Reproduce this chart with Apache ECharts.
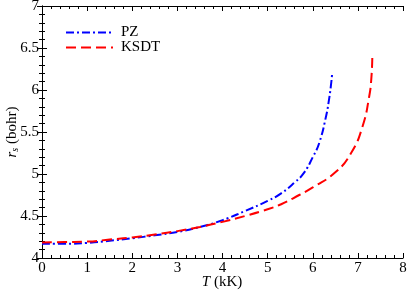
<!DOCTYPE html>
<html><head><meta charset="utf-8">
<script src="https://cdn.jsdelivr.net/npm/echarts@6/dist/echarts.min.js"></script>
<style>html,body{margin:0;padding:0;background:#fff}#c{width:409px;height:291px}</style>
</head><body><div id="c"></div>
<script>
var pzT  = [0, 0.5, 1, 1.5, 2, 2.5, 3, 3.5, 4, 4.5, 5, 5.3, 5.6, 5.8, 6.0, 6.15, 6.3, 6.35, 6.4, 6.43];
var pzRs = [4.17, 4.17, 4.18, 4.205, 4.235, 4.27, 4.31, 4.37, 4.45, 4.56, 4.68, 4.77, 4.90, 5.01, 5.2, 5.38, 5.7, 5.85, 6.04, 6.2];
var ksT  = [0, 0.5, 1, 1.5, 2, 2.5, 3, 3.5, 4, 4.5, 5, 5.3, 5.7, 6.0, 6.5, 6.85, 7.1, 7.25, 7.3, 7.32];
var ksRs = [4.185, 4.19, 4.195, 4.22, 4.245, 4.28, 4.32, 4.37, 4.43, 4.5, 4.58, 4.64, 4.75, 4.84, 5.02, 5.25, 5.56, 5.92, 6.15, 6.4];
var seriesNames = ['PZ', 'KSDT'];
var xTitle = '{i|T} (kK)';
var yTitle = '{i|r}{s|s} (bohr)';

function pairs(xs, ys){ return xs.map(function(x,i){return [x, ys[i]];}); }
var font = 'Liberation Serif';
var axCommon = {
  axisLine:{show:true, lineStyle:{color:'#000', width:1}},
  axisTick:{show:true, inside:true, length:5, lineStyle:{color:'#000'}},
  minorTick:{show:true, splitNumber:5, length:3, lineStyle:{color:'#000'}},
  splitLine:{show:false}
};
function ax(extra){ return Object.assign({}, JSON.parse(JSON.stringify(axCommon)), extra); }
var richT = {
  i:{fontFamily:font, fontStyle:'italic', fontSize:15, fill:'#000', color:'#000'},
  s:{fontFamily:font, fontStyle:'italic', fontSize:10, fill:'#000', color:'#000', verticalAlign:'bottom', padding:[6,0,0,0]}
};

var chart = echarts.init(document.getElementById('c'), null, {renderer:'canvas'});
chart.setOption({
  animation:false,
  backgroundColor:'#fff',
  grid:{left:42, right:6, top:6, bottom:33, containLabel:false, outerBoundsMode:'none'},
  legend:{
    orient:'vertical', left:60, top:20, itemWidth:47, itemHeight:10, itemGap:0,
    itemStyle:{opacity:0},
    textStyle:{fontFamily:font, fontSize:15, lineHeight:15, color:'#000', padding:[0,0,0,3]},
    data:seriesNames
  },
  graphic:[
    {type:'text', x:222, y:282, style:{text:xTitle, rich:richT, fontFamily:font, fontSize:15, fill:'#000', align:'center', verticalAlign:'middle'}},
    {type:'text', x:12, y:132, rotation:Math.PI/2, style:{text:yTitle, rich:richT, fontFamily:font, fontSize:15, fill:'#000', align:'center', verticalAlign:'middle'}}
  ],
  xAxis:[
    ax({type:'value', min:0, max:8, interval:1, position:'bottom',
      axisLabel:{fontFamily:font, fontSize:15, color:'#000', margin:3}}),
    ax({type:'value', min:0, max:8, interval:1, position:'top', axisLabel:{show:false}})
  ],
  yAxis:[
    ax({type:'value', min:4, max:7, interval:0.5, position:'left',
      axisLabel:{fontFamily:font, fontSize:15, color:'#000', margin:3}}),
    ax({type:'value', min:4, max:7, interval:0.5, position:'right', axisLabel:{show:false}})
  ],
  series:[
    {name:seriesNames[0], type:'line', smooth:true, symbol:'none', data:pairs(pzT, pzRs),
      itemStyle:{color:'#0000ff'},
      lineStyle:{color:'#0000ff', width:2, type:[8,3,2,3]}},
    {name:seriesNames[1], type:'line', smooth:true, symbol:'none', data:pairs(ksT, ksRs),
      itemStyle:{color:'#ff0000'},
      lineStyle:{color:'#ff0000', width:2, type:[10,5]}}
  ]
});
</script></body></html>
